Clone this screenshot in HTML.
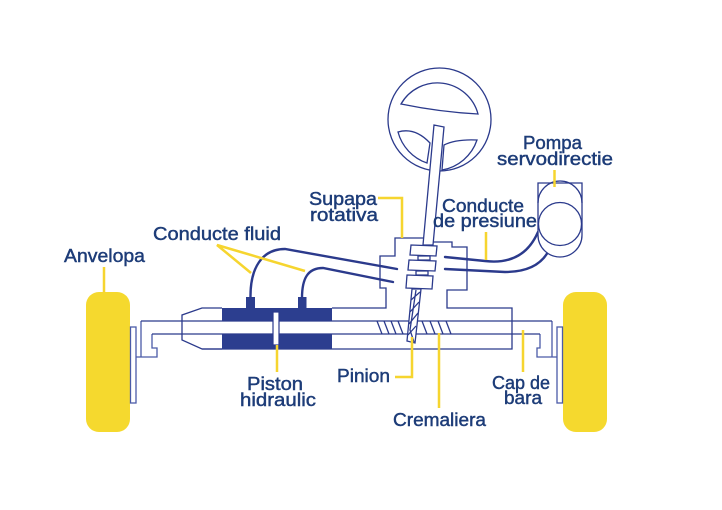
<!DOCTYPE html>
<html><head><meta charset="utf-8"><style>
html,body{margin:0;padding:0;background:#fff;}
svg{display:block;}
text{font-family:"Liberation Sans",sans-serif;font-size:18.5px;fill:#1d3c78;stroke:#1d3c78;stroke-width:0.45px;}
</style></head><body>
<svg width="722" height="510" viewBox="0 0 722 510" xmlns="http://www.w3.org/2000/svg">
<rect width="722" height="510" fill="#fff"/>

<!-- tires -->
<rect x="86" y="292" width="44" height="140" rx="13" fill="#f5d92e"/>
<rect x="563" y="292" width="44" height="140" rx="13" fill="#f5d92e"/>

<g fill="none" stroke="#2b3a8c" stroke-width="1.3">
<!-- knuckle plates -->
<rect x="130.5" y="327" width="5.5" height="76" fill="#fff" stroke="#4a5ba8"/>
<rect x="557" y="327" width="5.5" height="76" fill="#fff" stroke="#4a5ba8"/>
<!-- tie rods -->
<path d="M141,321 V357 M136,357 H157 V348 H152 V334" stroke="#4a5ba8"/>
<path d="M552,321 V357 M557,357 H537 V348 H540 V334" stroke="#4a5ba8"/>

<!-- housing -->
<path d="M222,308 H202 L182,315 V340 L202,349 H222"/>
<path d="M332,308 H386 V288 H380 V256 H395 V238 H424"/>
<path d="M432,242 H452 V247 H467 V290 H447 V308 H512 V349 H202"/>
<!-- rack -->
<path d="M141,321 H552 M152,334 H540"/>
<path d="M377,321 l5,13 M384,321 l5,13 M391,321 l5,13 M398,321 l5,13 M422,321 l5,13 M430,321 l5,13 M438,321 l5,13 M446,321 l5,13"/>
</g>

<!-- piston chamber -->
<rect x="222" y="308" width="110" height="12.5" fill="#2c3e8f"/>
<rect x="222" y="334.5" width="110" height="14.5" fill="#2c3e8f"/>
<rect x="246" y="297" width="9" height="11" fill="#2c3e8f"/>
<rect x="298" y="297" width="8.5" height="11" fill="#2c3e8f"/>
<rect x="273" y="312" width="6" height="33" fill="#fff" stroke="#2b3a8c" stroke-width="1.2"/>

<!-- steering wheel -->
<g fill="none" stroke="#2b3a8c" stroke-width="1.3">
<circle cx="439.5" cy="119.5" r="51.5"/>
<path d="M401,104 A42,42 0 0 1 478,114 Q440,112 401,104 Z"/>
<path d="M398,132 Q415,127 430,143 L427,163 A45,45 0 0 1 398,132 Z"/>
<path d="M444,145 Q456,139 477,140 A45,45 0 0 1 442,170 Z"/>
<polygon points="434,125 444,127 433,245 423,245" fill="#fff"/>
<!-- valve rings -->
<polygon points="411,245 437,246 436,256 410,255" fill="#fff"/>
<polygon points="418,256 430,256 430,260 418,260" fill="#fff"/>
<polygon points="409,260 436,261 435,271 408,270" fill="#fff"/>
<polygon points="416,271 428,271 428,275 416,275" fill="#fff"/>
<polygon points="407,275 433,276 432,289 406,288" fill="#fff"/>
<!-- pinion -->
<polygon points="412,289 421,289 415,343 407,341" fill="#fff"/>
<path d="M411,300 L420,292 M410,312 L419,302 M409,324 L418,313 M408,335 L416,326 M416,290 L410,330 L414,342"/>
</g>

<!-- hoses -->
<g fill="none" stroke="#2b3a8c" stroke-width="2.4" stroke-linecap="round">
<path d="M250.5,298 C250,268 262,249 285,249 L397,269"/>
<path d="M302,298 C302,278 308,268 323,268 L393,282"/>
<path d="M445,257 L485,261 C510,264 528,255 538,232"/>
<path d="M445,269 L505,272 C525,272 540,266 548,252"/>
</g>

<!-- pump -->
<g fill="#fff" stroke="#2b3a8c" stroke-width="1.3">
<path d="M538,183 H582 V235 A22,22 0 0 1 538,235 Z"/>
<path d="M538,203 A22,22 0 0 1 582,203" fill="none"/>
<circle cx="560" cy="224" r="21.5"/>
</g>

<!-- yellow leaders -->
<g fill="none" stroke="#f6d52f" stroke-width="2.5">
<path d="M104,267 V293"/>
<path d="M251,273 L217,245 L305,271"/>
<path d="M378,198 H402 V238"/>
<path d="M486,232 V260"/>
<path d="M554.5,170 V187"/>
<path d="M277,345 V372"/>
<path d="M395,377 H412 V337"/>
<path d="M439,333 V408"/>
<path d="M523,330 V372"/>
</g>

<!-- labels -->
<text x="64" y="262" textLength="81" lengthAdjust="spacingAndGlyphs">Anvelopa</text>
<text x="153" y="240" textLength="128" lengthAdjust="spacingAndGlyphs">Conducte fluid</text>
<text x="309" y="205" textLength="68" lengthAdjust="spacingAndGlyphs">Supapa</text>
<text x="310" y="221" textLength="68" lengthAdjust="spacingAndGlyphs">rotativa</text>
<text x="523" y="149" textLength="59" lengthAdjust="spacingAndGlyphs">Pompa</text>
<text x="497" y="165" textLength="116" lengthAdjust="spacingAndGlyphs">servodirectie</text>
<text x="442" y="212" textLength="82" lengthAdjust="spacingAndGlyphs">Conducte</text>
<text x="433" y="227" textLength="104" lengthAdjust="spacingAndGlyphs">de presiune</text>
<text x="247" y="390" textLength="56" lengthAdjust="spacingAndGlyphs">Piston</text>
<text x="240" y="406" textLength="76" lengthAdjust="spacingAndGlyphs">hidraulic</text>
<text x="337" y="382" textLength="53" lengthAdjust="spacingAndGlyphs">Pinion</text>
<text x="393" y="426" textLength="93" lengthAdjust="spacingAndGlyphs">Cremaliera</text>
<text x="492" y="389" textLength="58" lengthAdjust="spacingAndGlyphs">Cap de</text>
<text x="504" y="404" textLength="38" lengthAdjust="spacingAndGlyphs">bara</text>
</svg>
</body></html>
